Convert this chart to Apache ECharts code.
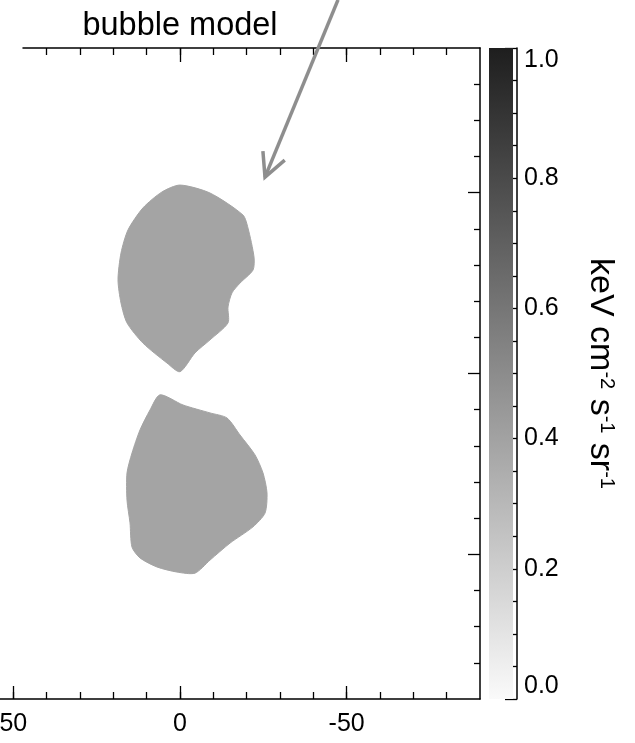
<!DOCTYPE html>
<html><head><meta charset="utf-8">
<script src="https://cdn.jsdelivr.net/npm/echarts@6/dist/echarts.min.js"></script>
<style>html,body{margin:0;padding:0;background:#fff}#c{width:635px;height:743px}</style>
</head><body><div id="c"></div>
<script>
// ---- data ----
const titleText = 'bubble model';
const xMajorTicks = [50, 0, -50];
const xMinorTicksBottom = [50, 40, 30, 20, 10, 0, -10, -20, -30, -40, -50, -60, -70, -80];
const xMinorTicksTop = [40, 30, 20, 10, 0, -10, -20, -30, -40, -50, -60, -70, -80];
const xMajorTicksTop = [0, -50];
const yMajorTicks = [50, 0, -50];
const yMinorTicks = [80, 70, 60, 40, 30, 20, 10, -10, -20, -30, -40, -60, -70, -80];
const cbMajorTicks = [0.0, 0.2, 0.4, 0.6, 0.8, 1.0];
const cbMinorTicks = [0.05, 0.1, 0.15, 0.25, 0.3, 0.35, 0.45, 0.5, 0.55, 0.65, 0.7, 0.75, 0.85, 0.9, 0.95];
const cbUnitMain = ['keV cm', ' s', ' sr'];
const cbUnitExp = ['-2', '-1', '-1'];
const bubbleValue = 0.39;
const upperBubble = [
  [0, 52.1], [-9.0, 49.9], [-18.9, 43.8], [-20.4, 40.2], [-22.2, 32.2], [-21.9, 28.6],
  [-18.0, 25.0], [-15.6, 22.3], [-14.4, 18.4], [-14.4, 14.0], [-9.0, 9.3], [-4.5, 5.7],
  [0, 0.5], [3.9, 2.9], [11.1, 8.4], [15.9, 14.0], [17.7, 19.5], [18.6, 25.9],
  [17.7, 33.3], [15.6, 39.7], [11.1, 45.8], [5.4, 50.2]
];
const lowerBubble = [
  [6.0, -5.9], [-0.9, -8.7], [-9.0, -10.9], [-14.1, -12.3], [-18.0, -17.0], [-22.5, -22.5],
  [-24.9, -27.5], [-26.1, -33.0], [-25.5, -38.6], [-21.9, -42.4], [-15.0, -46.9], [-9.0, -51.6],
  [-4.5, -55.2], [0.9, -54.9], [6.9, -53.5], [12.0, -51.0], [14.4, -48.0], [15.0, -41.3],
  [15.9, -35.0], [15.9, -27.5], [14.4, -22.0], [12.0, -15.6], [9.0, -10.1]
];
const arrowFrom = [-47.4, 103.3];
const arrowTo = [-25.5, 54.3];

// ---- chart ----
const FONT = "'Liberation Sans', Arial, Helvetica, sans-serif";
const black = '#000';
const lineStyle = { color: black, width: 1.5 };
const tickStyle = { color: black, width: 1.3 };
const bubbles = [upperBubble, lowerBubble];
function grayFor(v) {
  const g = Math.round(250 - 220 * v);
  return 'rgb(' + g + ',' + g + ',' + g + ')';
}

const chart = echarts.init(document.getElementById('c'), null, { renderer: 'canvas' });
const noSplit = { show: false };
chart.setOption({
  animation: false,
  backgroundColor: '#fff',
  title: {
    text: titleText, left: 175, top: 5, textAlign: 'center',
    textStyle: { fontSize: 32.5, fontWeight: 'normal', color: black, fontFamily: FONT }
  },
  grid: [
    { left: 0, top: 48, width: 480, height: 651, containLabel: false, outerBoundsMode: 'none' },
    { left: 23, top: 48, width: 457, height: 651, containLabel: false, outerBoundsMode: 'none' },
    { left: 489, top: 48, width: 24, height: 651, containLabel: false, outerBoundsMode: 'none' }
  ],
  xAxis: [
    { gridIndex: 0, type: 'value', min: -90, max: 54, inverse: true, position: 'bottom',
      axisLine: { show: true, onZero: false, lineStyle },
      axisTick: { show: true, inside: true, length: 7, customValues: xMinorTicksBottom, lineStyle: tickStyle },
      axisLabel: { show: false }, splitLine: noSplit },
    { gridIndex: 0, type: 'value', min: -90, max: 54, inverse: true, position: 'bottom',
      axisLine: { show: false, onZero: false },
      axisTick: { show: true, inside: true, length: 13, customValues: xMajorTicks, lineStyle: tickStyle },
      axisLabel: { show: true, customValues: xMajorTicks, fontSize: 25, margin: 13, color: black, fontFamily: FONT },
      splitLine: noSplit },
    { gridIndex: 1, type: 'value', min: -90, max: 47.1, inverse: true, position: 'top',
      axisLine: { show: true, onZero: false, lineStyle },
      axisTick: { show: true, inside: true, length: 7, customValues: xMinorTicksTop, lineStyle: tickStyle },
      axisLabel: { show: false }, splitLine: noSplit },
    { gridIndex: 1, type: 'value', min: -90, max: 47.1, inverse: true, position: 'top',
      axisLine: { show: false, onZero: false },
      axisTick: { show: true, inside: true, length: 14, customValues: xMajorTicksTop, lineStyle: tickStyle },
      axisLabel: { show: false }, splitLine: noSplit },
    { gridIndex: 2, type: 'category', data: ['cb'], show: false }
  ],
  yAxis: [
    { gridIndex: 0, type: 'value', min: -90, max: 90, position: 'right',
      axisLine: { show: true, onZero: false, lineStyle },
      axisTick: { show: true, inside: true, length: 6, customValues: yMinorTicks, lineStyle: tickStyle },
      axisLabel: { show: false }, splitLine: noSplit },
    { gridIndex: 0, type: 'value', min: -90, max: 90, position: 'right',
      axisLine: { show: false, onZero: false },
      axisTick: { show: true, inside: true, length: 12, customValues: yMajorTicks, lineStyle: tickStyle },
      axisLabel: { show: false }, splitLine: noSplit },
    { gridIndex: 1, type: 'value', min: -90, max: 90, show: false },
    { gridIndex: 2, type: 'value', min: 0, max: 1, position: 'right', offset: 4,
      axisLine: { show: true, onZero: false, lineStyle },
      axisTick: { show: true, inside: true, length: 12, customValues: cbMajorTicks, lineStyle: tickStyle },
      axisLabel: { show: true, customValues: cbMajorTicks, fontSize: 25, margin: 7, color: black, fontFamily: FONT,
        formatter: v => Number(v).toFixed(1),
        verticalAlignMinLabel: 'bottom', verticalAlignMaxLabel: 'top' },
      splitLine: noSplit,
      name: cbUnitMain.map((m, i) => m + '{sup|' + cbUnitExp[i] + '}').join(''),
      nameLocation: 'middle', nameRotate: -90, nameGap: 66,
      nameTextStyle: { fontSize: 34, color: black, fontFamily: FONT,
        rich: { sup: { fontSize: 20, color: black, fontFamily: FONT, verticalAlign: 'top', padding: [0, 0, 12, 0] } } } },
    { gridIndex: 2, type: 'value', min: 0, max: 1, position: 'right', offset: 4,
      axisLine: { show: false, onZero: false },
      axisTick: { show: true, inside: true, length: 7, customValues: cbMinorTicks, lineStyle: tickStyle },
      axisLabel: { show: false }, splitLine: noSplit }
  ],
  series: [
    {
      type: 'custom', xAxisIndex: 0, yAxisIndex: 0, silent: true,
      data: bubbles.map((b, i) => [b[0][0], b[0][1], i]),
      renderItem: (params, api) => {
        const poly = bubbles[params.dataIndex];
        return { type: 'polygon', shape: { points: poly.map(p => api.coord(p)), smooth: 0.25 },
                 style: { fill: grayFor(bubbleValue), stroke: grayFor(bubbleValue), lineWidth: 1 } };
      }
    },
    {
      type: 'custom', xAxisIndex: 0, yAxisIndex: 0, silent: true, clip: false,
      data: [[arrowFrom[0], arrowFrom[1], arrowTo[0], arrowTo[1]]],
      encode: { x: [0, 2], y: [1, 3] },
      renderItem: (params, api) => {
        const a = api.coord([api.value(0), api.value(1)]);
        const b = api.coord([api.value(2), api.value(3)]);
        const ang = Math.atan2(a[1] - b[1], a[0] - b[0]);
        const L = 26, w = 27 * Math.PI / 180;
        const w1 = [b[0] + L * Math.cos(ang - w), b[1] + L * Math.sin(ang - w)];
        const w2 = [b[0] + L * Math.cos(ang + w), b[1] + L * Math.sin(ang + w)];
        const st = { stroke: '#8e8e8e', lineWidth: 3.5, fill: null, lineCap: 'butt', lineJoin: 'miter' };
        return { type: 'group', children: [
          { type: 'line', shape: { x1: a[0], y1: a[1], x2: b[0], y2: b[1] }, style: st },
          { type: 'polyline', shape: { points: [w1, b, w2] }, style: st }
        ] };
      }
    },
    {
      type: 'bar', xAxisIndex: 4, yAxisIndex: 3, silent: true, barWidth: '100%',
      data: [1],
      itemStyle: { color: new echarts.graphic.LinearGradient(0, 0, 0, 1, [
        { offset: 0, color: grayFor(1) }, { offset: 1, color: grayFor(0) }
      ]) }
    }
  ]
});
</script></body></html>
